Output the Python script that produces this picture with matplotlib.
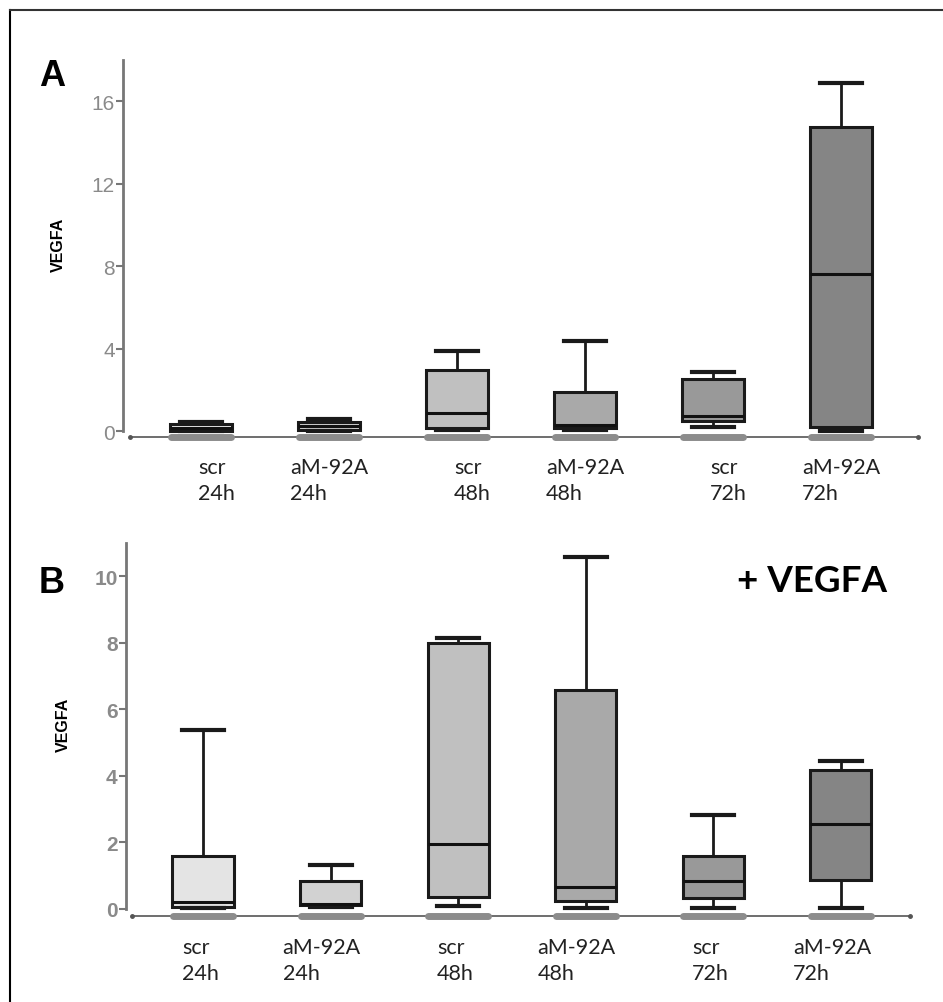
import matplotlib
matplotlib.use("Agg")
import matplotlib.pyplot as plt
from matplotlib.lines import Line2D
import matplotlib.transforms as mtransforms
from matplotlib import font_manager as fm

# ---------------- data ----------------
groups = ["scr", "aM-92A", "scr", "aM-92A", "scr", "aM-92A"]
times = ["24h", "24h", "48h", "48h", "72h", "72h"]

# Panel A (VEGFA)
a_whislo = [-0.02, 0.00, 0.07, 0.05, 0.18, 0.02]
a_q1     = [0.00, 0.03, 0.15, 0.13, 0.47, 0.18]
a_med    = [0.17, 0.22, 0.87, 0.31, 0.74, 7.64]
a_q3     = [0.36, 0.45, 2.97, 1.91, 2.52, 14.77]
a_whishi = [0.45, 0.56, 3.86, 4.38, 2.84, 16.90]

# Panel B (+ VEGFA)
b_whislo = [0.02, 0.05, 0.10, 0.02, 0.02, 0.02]
b_q1     = [0.07, 0.12, 0.35, 0.25, 0.32, 0.88]
b_med    = [0.22, 0.15, 1.94, 0.65, 0.85, 2.56]
b_q3     = [1.58, 0.83, 7.98, 6.58, 1.58, 4.17]
b_whishi = [5.39, 1.33, 8.13, 10.59, 2.84, 4.44]

a_yticks = [0, 4, 8, 12, 16]
b_yticks = [0, 2, 4, 6, 8, 10]

fills = ["#e4e4e4", "#d2d2d2", "#c0c0c0", "#a9a9a9", "#999999", "#858585"]

names = {f.name for f in fm.fontManager.ttflist}
narrow = "Liberation Sans Narrow" if "Liberation Sans Narrow" in names else None
if narrow is None:
    narrow = "DejaVu Sans Condensed" if "DejaVu Sans Condensed" in names else "Liberation Sans"

W, H = 943, 1003
fig = plt.figure(figsize=(W / 100, H / 100), dpi=100)


def px_axes(left, right, top, bottom):
    return fig.add_axes([left / W, 1 - bottom / H, (right - left) / W, (bottom - top) / H])


def draw_panel(ax, whislo, q1, med, q3, whishi, yticks, ylim, xlim, base, base_x,
               tick_bold, label_offsets, label_y):
    stats = []
    for i in range(len(groups)):
        stats.append(dict(whislo=whislo[i], q1=q1[i], med=med[i], q3=q3[i],
                          whishi=whishi[i], fliers=[], label=""))
    pos = list(range(1, len(groups) + 1))
    bp = ax.bxp(stats, positions=pos, widths=0.48, capwidths=0.33,
                patch_artist=True, showfliers=False,
                boxprops=dict(linewidth=2.2, edgecolor="#1a1a1a"),
                medianprops=dict(linewidth=2.2, color="#111111"),
                whiskerprops=dict(linewidth=2.0, color="#1a1a1a"),
                capprops=dict(linewidth=3.0, color="#1a1a1a"))
    for patch, c in zip(bp["boxes"], fills):
        patch.set_facecolor(c)

    # offset baseline with grey segments under each box
    ax.plot(base_x, [base, base], color="#555555", lw=1.2, marker="o", ms=2.5,
            clip_on=False, zorder=1)
    for p in pos:
        ax.plot([p - 0.235, p + 0.235], [base, base], color="#8c8c8c", lw=5,
                solid_capstyle="round", zorder=2, clip_on=False)

    ax.set_xlim(*xlim)
    ax.set_ylim(*ylim)
    for s in ["top", "right", "bottom"]:
        ax.spines[s].set_visible(False)
    ax.spines["left"].set_color("#777777")
    ax.spines["left"].set_linewidth(2)
    ax.spines["left"].set_bounds(0, ylim[1])
    ax.set_yticks(yticks)
    ax.set_yticklabels([str(t) for t in yticks],
                       fontfamily=narrow, fontsize=15, color="#8a8a8a",
                       fontweight="bold" if tick_bold else "normal")
    ax.tick_params(axis="y", direction="out", length=5, width=1.5, color="#777777", pad=1)
    ax.set_xticks([])
    ax.patch.set_alpha(0)

    # two-line category labels
    for i, p in enumerate(pos):
        kind = 0 if groups[i] == "scr" else 1
        dx, ha = label_offsets[kind]
        tr = ax.get_xaxis_transform() + mtransforms.ScaledTranslation(dx / 100, 0, fig.dpi_scale_trans)
        ax.text(p, label_y, groups[i] + "\n" + times[i], transform=tr, ha=ha, va="top",
                multialignment="left", fontsize=15.5, fontfamily="Lato",
                color="#222222", linespacing=1.35)
    return ax


# Panel A
axA = px_axes(123, 925, 61, 445)
draw_panel(axA, a_whislo, a_q1, a_med, a_q3, a_whishi, a_yticks,
           ylim=(-0.63, 18.0), xlim=(0.391, 6.656), base=-0.29, base_x=[0.445, 6.60],
           tick_bold=False, label_offsets=[(-3, "left"), (0, "center")], label_y=-0.035)

# Panel B
axB = px_axes(126, 925, 544, 925)
draw_panel(axB, b_whislo, b_q1, b_med, b_q3, b_whishi, b_yticks,
           ylim=(-0.451, 11.0), xlim=(0.396, 6.66), base=-0.2, base_x=[0.443, 6.54],
           tick_bold=True, label_offsets=[(-21, "left"), (-48, "left")], label_y=-0.035)

# y labels
fig.text(58 / W, 1 - 245 / H, "VEGFA", rotation=90, ha="center", va="center",
         fontsize=11.5, fontweight="bold", fontfamily="Liberation Sans")
fig.text(63 / W, 1 - 725 / H, "VEGFA", rotation=90, ha="center", va="center",
         fontsize=11.5, fontweight="bold", fontfamily="Liberation Sans")

# panel letters and annotation
fig.text(39 / W, 1 - 86 / H, "A", fontsize=26, fontweight="bold",
         fontfamily="Liberation Sans", ha="left", va="baseline")
fig.text(39 / W, 1 - 593 / H, "B", fontsize=26, fontweight="bold",
         fontfamily="Liberation Sans", ha="left", va="baseline")
fig.text(737 / W, 1 - 592 / H, "+ VEGFA", fontsize=26.5, fontweight="bold",
         fontfamily="Lato", ha="left", va="baseline")

# frame lines (left and top)
fig.add_artist(Line2D([9.5 / W, 9.5 / W], [0, 1 - 11 / H], transform=fig.transFigure,
                      color="black", lw=1.5))
fig.add_artist(Line2D([9.5 / W, 1], [1 - 11 / H, 1 - 11 / H], transform=fig.transFigure,
                      color="#333333", lw=1.5))

fig.savefig("out.png", dpi=100, facecolor="white")
